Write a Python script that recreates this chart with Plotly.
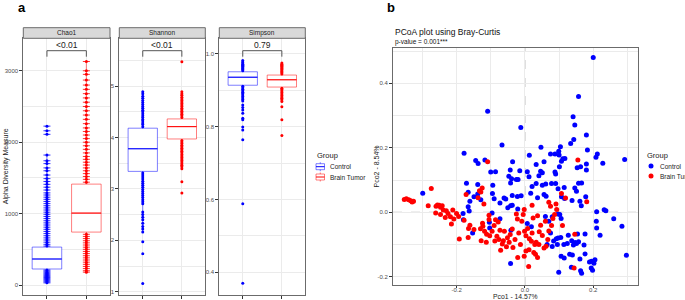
import plotly.graph_objects as go

W, H = 685, 300
FONT = "Liberation Sans, Arial, sans-serif"

groups = ["Control", "Brain Tumor"]
colors = {"Control": "#0000FF", "Brain Tumor": "#FF0000"}
box_edge = {"Control": "rgba(0,0,255,0.5)", "Brain Tumor": "rgba(255,0,0,0.5)"}

metrics = ["Chao1", "Shannon", "Simpson"]
p_labels = ["<0.01", "<0.01", "0.79"]

# box statistics: q1, median, q3, lower whisker end, upper whisker end
chao1_control_stats = [224, 364, 531, 30, 1820]
chao1_tumor_stats = [741, 1007, 1413, 180, 3130]
shannon_control_stats = [3.34, 3.78, 4.18, 2.16, 4.89]
shannon_tumor_stats = [3.97, 4.21, 4.36, 3.39, 4.89]
simpson_control_stats = [0.914, 0.936, 0.951, 0.869, 0.982]
simpson_tumor_stats = [0.909, 0.929, 0.942, 0.869, 0.975]

# individual samples visible outside the boxes
chao1_control_pts = [30, 45, 60, 75, 90, 105, 120, 135, 150, 165, 180, 195, 210,
                     545, 570, 600, 630, 660, 690, 720, 750, 780, 810, 840, 870, 900,
                     930, 960, 990, 1020, 1050, 1080, 1110, 1140, 1170, 1200, 1230,
                     1260, 1290, 1330, 1370, 1410, 1450, 1490, 1540, 1600, 1640, 1700,
                     1740, 1820, 2110, 2160, 2225]
chao1_tumor_pts = [180, 200, 230, 260, 290, 320, 350, 380, 410, 440, 470, 500, 530,
                   560, 590, 620, 650, 680, 710, 1440, 1480, 1520, 1560, 1600, 1640,
                   1680, 1720, 1760, 1800, 1850, 1900, 1950, 2000, 2050, 2100, 2150,
                   2200, 2260, 2320, 2380, 2440, 2500, 2560, 2620, 2680, 2740, 2800,
                   2870, 2950, 3000, 3130]
shannon_control_pts = [4.21, 4.25, 4.28, 4.32, 4.35, 4.39, 4.42, 4.46, 4.50, 4.53,
                       4.57, 4.60, 4.64, 4.68, 4.72, 4.76, 4.80, 4.85, 4.89,
                       3.31, 3.27, 3.23, 3.19, 3.15, 3.11, 3.07, 3.03, 2.99, 2.95,
                       2.91, 2.87, 2.83, 2.79, 2.75, 2.71, 2.55, 2.50, 2.45, 2.40,
                       2.33, 2.27, 2.22, 2.16, 1.97, 1.74, 1.16]
shannon_tumor_pts = [4.39, 4.42, 4.45, 4.48, 4.51, 4.54, 4.57, 4.60, 4.63, 4.66,
                     4.69, 4.72, 4.75, 4.78, 4.82, 4.85, 4.89, 5.47,
                     3.94, 3.91, 3.88, 3.85, 3.82, 3.79, 3.76, 3.73, 3.70, 3.67,
                     3.64, 3.61, 3.58, 3.55, 3.52, 3.49, 3.46, 3.43, 3.39, 3.14, 2.92]
simpson_control_pts = [0.954, 0.957, 0.960, 0.963, 0.966, 0.969, 0.972, 0.975,
                       0.978, 0.982, 0.911, 0.907, 0.903, 0.899, 0.895, 0.891,
                       0.887, 0.883, 0.879, 0.875, 0.871, 0.860, 0.853, 0.846,
                       0.837, 0.823, 0.819, 0.799, 0.791, 0.764, 0.588, 0.370]
simpson_tumor_pts = [0.945, 0.948, 0.951, 0.954, 0.957, 0.960, 0.963, 0.966,
                     0.969, 0.972, 0.975, 0.906, 0.902, 0.898, 0.894, 0.890,
                     0.886, 0.882, 0.878, 0.874, 0.869, 0.855, 0.819, 0.776]

# PCoA coordinates
pco1_control = [0.200, 0.157, -0.109, 0.141, 0.146, -0.012, 0.180, 0.143, 0.134, -0.067,
                0.047, 0.104, 0.183, -0.178, 0.099, 0.075, 0.088, 0.100, 0.212, 0.208,
                0.013, 0.111, 0.117, 0.107, 0.292, -0.144, -0.117, -0.137, -0.036, 0.056,
                0.033, 0.180, 0.228, 0.101, 0.163, 0.153, -0.100, -0.086, -0.043, -0.015,
                0.007, 0.046, 0.051, 0.088, 0.090, 0.180, -0.047, -0.039, -0.025, -0.020,
                0.012, 0.041, -0.171, -0.138, -0.094, -0.042, 0.021, 0.033, 0.051, 0.061,
                0.078, 0.090, 0.097, 0.115, 0.146, 0.151, 0.157, 0.166, -0.299, -0.166,
                -0.149, -0.161, -0.138, -0.129, -0.095, -0.090, -0.073, -0.061, -0.056, -0.037,
                -0.022, -0.011, 0.017, 0.037, 0.056, 0.062, 0.107, 0.116, 0.138, 0.161,
                0.165, 0.178, -0.050, -0.042, -0.037, -0.021, -0.166, -0.163, -0.181, -0.180,
                -0.096, -0.104, -0.103, -0.073, -0.041, 0.007, 0.019, 0.060, 0.070, 0.080,
                0.097, 0.102, 0.106, 0.210, 0.232, 0.237, 0.209, 0.210, 0.260, 0.284,
                0.220, 0.176, 0.154, 0.147, 0.137, 0.127, 0.124, 0.114, 0.105, 0.097,
                0.092, 0.084, 0.080, 0.095, 0.142, 0.151, 0.157, 0.173, 0.131, 0.139,
                0.106, 0.115, 0.161, 0.176, 0.195, 0.205, 0.202, 0.189, 0.194, 0.198,
                0.163, 0.166, 0.099, 0.136, 0.297, -0.153, -0.042, 0.065, 0.075]
pco2_control = [0.480, 0.359, 0.313, 0.296, 0.271, 0.263, 0.240, 0.226, 0.213, 0.209,
                0.202, 0.203, 0.193, 0.183, 0.189, 0.181, 0.181, 0.178, 0.181, 0.171,
                0.177, 0.166, 0.167, 0.158, 0.164, 0.161, 0.162, 0.151, 0.157, 0.157,
                0.148, 0.150, 0.152, 0.141, 0.141, 0.138, 0.125, 0.126, 0.131, 0.129,
                0.126, 0.127, 0.123, 0.125, 0.119, 0.131, 0.112, 0.104, 0.102, 0.102,
                0.110, 0.113, 0.090, 0.086, 0.084, 0.091, 0.080, 0.089, 0.084, 0.088,
                0.089, 0.089, 0.073, 0.077, 0.075, 0.065, 0.090, 0.091, 0.059, 0.062,
                0.048, 0.034, 0.057, 0.039, 0.058, 0.042, 0.029, 0.044, 0.041, 0.052,
                0.049, 0.051, 0.059, 0.045, 0.055, 0.050, 0.048, 0.043, 0.037, 0.034,
                0.020, 0.048, 0.014, 0.020, 0.022, 0.010, 0.017, 0.004, -0.004, -0.023,
                -0.002, -0.031, -0.049, -0.020, -0.056, -0.035, -0.045, -0.013, -0.028, -0.014,
                -0.005, -0.007, -0.019, 0.002, 0.008, 0.005, -0.028, -0.049, -0.020, -0.043,
                -0.071, -0.067, -0.067, -0.094, -0.088, -0.071, -0.097, -0.100, -0.078, -0.080,
                -0.082, -0.089, -0.106, -0.100, -0.101, -0.097, -0.091, -0.101, -0.130, -0.132,
                -0.136, -0.142, -0.145, -0.129, -0.152, -0.147, -0.158, -0.154, -0.173, -0.180,
                -0.181, -0.189, -0.186, -0.170, -0.133, -0.064, -0.159, -0.100, -0.064]
pco1_tumor = [-0.109, 0.155, -0.353, -0.347, -0.340, -0.334, -0.330, -0.326, -0.274, -0.283,
              -0.260, -0.256, -0.251, -0.247, -0.242, -0.239, -0.261, -0.247, -0.233, -0.230,
              -0.225, -0.218, -0.211, -0.215, -0.208, -0.200, -0.192, -0.194, -0.172, -0.178,
              -0.166, -0.165, -0.161, -0.149, -0.133, -0.129, -0.125, -0.137, -0.120, -0.130,
              -0.128, -0.124, -0.123, -0.118, -0.112, -0.105, -0.105, -0.113, -0.103, -0.096,
              -0.090, -0.088, -0.086, -0.082, -0.078, -0.073, -0.076, -0.071, -0.066, -0.063,
              -0.060, -0.054, -0.051, -0.046, -0.043, -0.037, -0.035, -0.029, -0.022, -0.025,
              -0.021, -0.018, -0.013, -0.009, -0.005, -0.002, -0.001, 0.003, 0.008, 0.012,
              0.011, 0.013, 0.019, 0.021, 0.024, 0.026, 0.021, 0.029, 0.033, 0.031,
              0.037, 0.042, 0.041, 0.046, 0.051, 0.056, 0.062, 0.060, 0.067, 0.070,
              0.075, 0.078, 0.082, 0.087, 0.091, 0.093, 0.070, 0.110, 0.107, 0.119,
              0.146, 0.144, 0.181, -0.002, 0.003, 0.037]
pco2_tumor = [0.157, 0.162, 0.040, 0.042, 0.039, 0.036, 0.032, 0.034, 0.074, 0.020,
              0.019, 0.023, 0.022, 0.016, 0.020, 0.007, -0.002, -0.007, -0.016, 0.005,
              -0.004, -0.014, 0.007, -0.036, -0.021, -0.004, -0.083, -0.013, 0.055, -0.025,
              -0.078, -0.050, -0.040, -0.053, 0.067, 0.063, 0.075, 0.045, 0.026, -0.051,
              -0.088, -0.034, -0.043, -0.059, -0.068, -0.009, -0.022, -0.093, -0.073, -0.059,
              -0.041, -0.089, -0.023, -0.074, -0.030, -0.056, -0.084, -0.118, -0.098, -0.088,
              -0.059, -0.107, -0.079, -0.093, -0.069, -0.052, -0.109, -0.084, -0.021, -0.005,
              -0.140, -0.064, -0.100, -0.028, -0.007, 0.009, -0.059, -0.073, -0.050, -0.116,
              -0.168, -0.082, -0.090, 0.022, -0.018, -0.125, -0.064, -0.100, -0.093, -0.130,
              -0.011, -0.060, -0.100, -0.040, -0.072, -0.111, -0.105, -0.028, -0.084, 0.031,
              0.019, -0.041, -0.019, -0.007, 0.026, 0.009, -0.058, -0.041, 0.058, 0.044,
              -0.068, -0.173, 0.033, -0.136, -0.120, -0.140]

stats = {
    "Chao1": {"Control": chao1_control_stats, "Brain Tumor": chao1_tumor_stats},
    "Shannon": {"Control": shannon_control_stats, "Brain Tumor": shannon_tumor_stats},
    "Simpson": {"Control": simpson_control_stats, "Brain Tumor": simpson_tumor_stats},
}
points = {
    "Chao1": {"Control": chao1_control_pts, "Brain Tumor": chao1_tumor_pts},
    "Shannon": {"Control": shannon_control_pts, "Brain Tumor": shannon_tumor_pts},
    "Simpson": {"Control": simpson_control_pts, "Brain Tumor": simpson_tumor_pts},
}


def px(x):
    return x / W


def py(y):
    return 1 - y / H


# layout geometry (pixels)
panels_x = [(23.3, 110.0), (119.3, 205.3), (219.3, 305.3)]
panel_top, panel_bottom, strip_top = 38.3, 295.0, 27.7
yranges = [[-140, 3455], [0.936, 5.928], [0.3375, 1.043]]
ytickvals = [[0, 1000, 2000, 3000], [1, 2, 3, 4, 5], [0.4, 0.6, 0.8, 1.0]]
yticktext = [["0", "1000", "2000", "3000"], ["1", "2", "3", "4", "5"], ["0.4", "0.6", "0.8", "1.0"]]
yminor = [500, 0.5, 0.1]

GRID = "#ebebeb"
BORDER = "#6b6b6b"
TICKF = dict(family=FONT, size=6, color="#4d4d4d")
BW = 0.75

fig = go.Figure()
layout = dict(width=W, height=H, margin=dict(l=0, r=0, t=0, b=0, autoexpand=False),
              paper_bgcolor="white", plot_bgcolor="white",
              font=dict(family=FONT), showlegend=False)
shapes, annots = [], []

for k, m in enumerate(metrics):
    sfx = "" if k == 0 else str(k + 1)
    xa, ya = "x" + sfx, "y" + sfx
    for gi, g in enumerate(groups):
        xpos = gi + 1
        q1, med, q3, lo, hi = stats[m][g]
        vals = points[m][g]
        fig.add_trace(go.Box(x=[xpos], q1=[q1], median=[med], q3=[q3], lowerfence=[lo],
                             upperfence=[hi], width=BW, boxpoints=False, whiskerwidth=0,
                             fillcolor="white", line=dict(color=box_edge[g], width=1),
                             name=g, xaxis=xa, yaxis=ya, hoverinfo="skip"))
        if m == "Chao1":
            fig.add_trace(go.Scatter(x=[xpos] * len(vals), y=vals, mode="markers",
                                     marker=dict(symbol="line-ew", size=5,
                                                 line=dict(color=colors[g], width=0.8)),
                                     xaxis=xa, yaxis=ya, hoverinfo="skip"))
        fig.add_trace(go.Scatter(x=[xpos] * len(vals), y=vals, mode="markers",
                                 marker=dict(size=3, color=colors[g]),
                                 xaxis=xa, yaxis=ya, hoverinfo="skip"))
        fig.add_trace(go.Scatter(x=[xpos - BW / 2, xpos + BW / 2], y=[med, med], mode="lines",
                                 line=dict(color=colors[g], width=1),
                                 xaxis=xa, yaxis=ya, hoverinfo="skip"))
    x0, x1 = panels_x[k]
    layout["xaxis" + sfx] = dict(domain=[px(x0), px(x1)], range=[0.4, 2.6], tickvals=[1, 2],
                                 showticklabels=False, ticks="outside", ticklen=3, tickcolor="#333",
                                 showgrid=True, gridcolor=GRID, gridwidth=0.8, zeroline=False,
                                 showline=True, linecolor=BORDER, linewidth=1, mirror=True,
                                 anchor=ya)
    layout["yaxis" + sfx] = dict(domain=[py(panel_bottom), py(panel_top)], range=yranges[k],
                                 tickvals=ytickvals[k], ticktext=yticktext[k], tickfont=TICKF,
                                 ticks="outside", ticklen=3, tickcolor="#333",
                                 showgrid=True, gridcolor=GRID, gridwidth=0.8, zeroline=False,
                                 showline=True, linecolor=BORDER, linewidth=1, mirror=True,
                                 minor=dict(dtick=yminor[k], tick0=0, showgrid=True, gridcolor=GRID,
                                            gridwidth=0.5, ticks=""),
                                 anchor=xa)
    # strip header
    shapes.append(dict(type="rect", xref="paper", yref="paper", x0=px(x0), x1=px(x1),
                       y0=py(panel_top), y1=py(strip_top), fillcolor="#d9d9d9",
                       line=dict(color=BORDER, width=1)))
    annots.append(dict(xref="paper", yref="paper", x=px((x0 + x1) / 2),
                       y=py((strip_top + panel_top) / 2), text=m, showarrow=False,
                       font=dict(family=FONT, size=6.5, color="#1a1a1a"),
                       xanchor="center", yanchor="middle"))
    # significance bracket
    shapes.append(dict(type="path", xref=xa, yref="paper",
                       path=f"M 1,{py(56.7)} L 1,{py(50.7)} L 2,{py(50.7)} L 2,{py(56.7)}",
                       line=dict(color="#555", width=1)))
    annots.append(dict(xref=xa, yref="paper", x=1.5, y=py(45.5), text=p_labels[k],
                       showarrow=False, font=dict(family=FONT, size=8.5, color="#222"),
                       xanchor="center", yanchor="middle"))

annots.append(dict(xref="paper", yref="paper", x=px(5.5), y=py((panel_top + panel_bottom) / 2),
                   text="Alpha Diversity Measure", textangle=-90, showarrow=False,
                   font=dict(family=FONT, size=7, color="#222"),
                   xanchor="center", yanchor="middle"))

# panel b
fig.add_trace(go.Scatter(x=pco1_control, y=pco2_control, mode="markers", name="Control",
                         marker=dict(size=5, color=colors["Control"]),
                         xaxis="x4", yaxis="y4", hoverinfo="skip"))
fig.add_trace(go.Scatter(x=pco1_tumor, y=pco2_tumor, mode="markers", name="Brain Tumor",
                         marker=dict(size=5, color=colors["Brain Tumor"]),
                         xaxis="x4", yaxis="y4", hoverinfo="skip"))
bx0, bx1, by0, by1 = 393.0, 638.0, 48.0, 285.0
layout["xaxis4"] = dict(domain=[px(bx0), px(bx1)], range=[-0.386, 0.331],
                        tickvals=[-0.2, 0.0, 0.2], ticktext=["-0.2", "0.0", "0.2"],
                        tickfont=TICKF, ticks="outside", ticklen=2, tickcolor="#333",
                        ticklabelstandoff=-3,
                        showgrid=True, gridcolor=GRID, gridwidth=0.8, zeroline=False,
                        showline=True, linecolor=BORDER, linewidth=1, mirror=True,
                        minor=dict(dtick=0.1, tick0=0, showgrid=True, gridcolor=GRID,
                                   gridwidth=0.5, ticks=""), anchor="y4")
layout["yaxis4"] = dict(domain=[py(by1), py(by0)], range=[-0.2254, 0.5095],
                        tickvals=[-0.2, 0.0, 0.2, 0.4], ticktext=["-0.2", "0.0", "0.2", "0.4"],
                        tickfont=TICKF, ticks="outside", ticklen=3, tickcolor="#333",
                        showgrid=True, gridcolor=GRID, gridwidth=0.8, zeroline=False,
                        showline=True, linecolor=BORDER, linewidth=1, mirror=True,
                        minor=dict(dtick=0.1, tick0=0, showgrid=True, gridcolor=GRID,
                                   gridwidth=0.5, ticks=""), anchor="x4")
shapes.append(dict(type="line", xref="x4", yref="y4 domain", x0=0, x1=0, y0=0, y1=1,
                   line=dict(color="#999", width=0.8, dash="dash"), layer="below"))
shapes.append(dict(type="line", xref="x4 domain", yref="y4", x0=0, x1=1, y0=0, y1=0,
                   line=dict(color="#999", width=0.8, dash="dash"), layer="below"))

annots.append(dict(xref="paper", yref="paper", x=px(bx0), y=py(32), text="PCoA plot using Bray-Curtis",
                   showarrow=False, font=dict(family=FONT, size=8.5, color="#111"),
                   xanchor="left", yanchor="middle"))
annots.append(dict(xref="paper", yref="paper", x=px(bx0), y=py(42), text="p-value = 0.001***",
                   showarrow=False, font=dict(family=FONT, size=6.5, color="#111"),
                   xanchor="left", yanchor="middle"))
annots.append(dict(xref="paper", yref="paper", x=px((bx0 + bx1) / 2), y=py(300.5),
                   text="Pco1 - 14.57%", showarrow=False, borderpad=0,
                   font=dict(family=FONT, size=6.8, color="#222"), xanchor="center", yanchor="bottom"))
annots.append(dict(xref="paper", yref="paper", x=px(376), y=py((by0 + by1) / 2),
                   text="Pco2 - 8.54%", textangle=-90, showarrow=False,
                   font=dict(family=FONT, size=7, color="#222"), xanchor="center", yanchor="middle"))

# panel letters
annots.append(dict(xref="paper", yref="paper", x=px(22), y=py(8), text="<b>a</b>", showarrow=False,
                   font=dict(family=FONT, size=13, color="#000"), xanchor="center", yanchor="middle"))
annots.append(dict(xref="paper", yref="paper", x=px(391), y=py(8), text="<b>b</b>", showarrow=False,
                   font=dict(family=FONT, size=13, color="#000"), xanchor="center", yanchor="middle"))

# legends (drawn manually so they may run past the right edge like the original)
LEGF = dict(family=FONT, size=6.5, color="#222")
TITF = dict(family=FONT, size=7.5, color="#222")
legend_rows = [166.7, 177.0]
# panel a legend: box keys
annots.append(dict(xref="paper", yref="paper", x=px(315), y=py(155.5), text="Group", showarrow=False,
                   font=TITF, xanchor="left", yanchor="middle"))
for g, ry in zip(groups, legend_rows):
    shapes.append(dict(type="rect", xref="paper", yref="paper", x0=px(316), x1=px(324.5),
                       y0=py(ry + 3), y1=py(ry - 3), fillcolor="white",
                       line=dict(color=box_edge[g], width=1)))
    shapes.append(dict(type="line", xref="paper", yref="paper", x0=px(316), x1=px(324.5),
                       y0=py(ry), y1=py(ry), line=dict(color=colors[g], width=1)))
    shapes.append(dict(type="line", xref="paper", yref="paper", x0=px(320.25), x1=px(320.25),
                       y0=py(ry - 4.5), y1=py(ry - 3), line=dict(color=box_edge[g], width=1)))
    shapes.append(dict(type="line", xref="paper", yref="paper", x0=px(320.25), x1=px(320.25),
                       y0=py(ry + 3), y1=py(ry + 4.5), line=dict(color=box_edge[g], width=1)))
    annots.append(dict(xref="paper", yref="paper", x=px(328), y=py(ry), text=g, showarrow=False,
                       font=LEGF, xanchor="left", yanchor="middle"))
# panel b legend: point keys
annots.append(dict(xref="paper", yref="paper", x=px(645), y=py(155.5), text="Group", showarrow=False,
                   font=TITF, xanchor="left", yanchor="middle"))
for g, ry in zip(groups, [166.0, 176.0]):
    shapes.append(dict(type="circle", xref="paper", yref="paper", x0=px(648.5), x1=px(653.5),
                       y0=py(ry + 2.5), y1=py(ry - 2.5), fillcolor=colors[g],
                       line=dict(color=colors[g], width=0)))
    annots.append(dict(xref="paper", yref="paper", x=px(657.5), y=py(ry), text=g, showarrow=False,
                       font=LEGF, xanchor="left", yanchor="middle"))

layout["shapes"] = shapes
layout["annotations"] = annots
fig.update_layout(**layout)
fig.write_html("out.html", config={"displayModeBar": False},
               post_script="document.body.style.margin='0';")
